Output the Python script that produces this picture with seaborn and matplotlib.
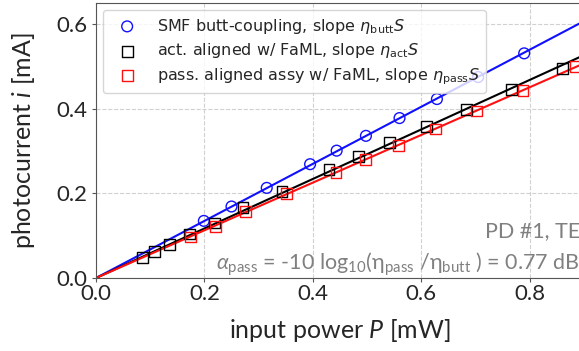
import numpy as np
import pandas as pd
import matplotlib
matplotlib.use("Agg")
import matplotlib.pyplot as plt
from matplotlib.font_manager import FontProperties
import seaborn as sns

# --- data ---
butt_P = [0.199, 0.250, 0.315, 0.395, 0.444, 0.498, 0.560, 0.629, 0.705, 0.790]
butt_i = [0.135, 0.169, 0.213, 0.269, 0.301, 0.336, 0.378, 0.423, 0.475, 0.531]

act_P = [0.086, 0.108, 0.135, 0.172, 0.218, 0.271, 0.343, 0.430, 0.484, 0.542, 0.610, 0.684, 0.767, 0.861]
act_i = [0.048, 0.062, 0.079, 0.104, 0.130, 0.166, 0.205, 0.256, 0.288, 0.321, 0.358, 0.399, 0.445, 0.495]

pass_P = [0.175, 0.221, 0.276, 0.352, 0.443, 0.497, 0.558, 0.627, 0.702, 0.788, 0.884]
pass_i = [0.097, 0.122, 0.158, 0.199, 0.250, 0.280, 0.313, 0.352, 0.395, 0.444, 0.500]

labels = [r"SMF butt-coupling, slope $\eta_{\rm butt}S$",
          r"act. aligned w/ FaML, slope $\eta_{\rm act}S$",
          r"pass. aligned assy w/ FaML, slope $\eta_{\rm pass}S$"]
colors = ["#1010ff", "black", "#ff1010"]
markers = ["o", "s", "s"]

xticks = [0.0, 0.2, 0.4, 0.6, 0.8]
yticks = [0.0, 0.2, 0.4, 0.6]

sns.set_style("whitegrid", {"grid.linestyle": "--", "grid.color": "#d0d0d0",
                            "axes.edgecolor": "#555555"})
plt.rcParams["font.family"] = ["Lato", "DejaVu Sans"]
plt.rcParams["mathtext.fontset"] = "custom"
plt.rcParams["mathtext.rm"] = "Lato"
plt.rcParams["mathtext.it"] = "Lato:italic"
plt.rcParams["mathtext.fallback"] = "stixsans"

fig = plt.figure(figsize=(5.79, 3.51), dpi=100)
ax = fig.add_axes([96/579, 73/351, 0.9*542/579, 275/351])

series = [(butt_P, butt_i), (act_P, act_i), (pass_P, pass_i)]
xmax = 0.9
handles = []
for (P, I), lab, c, m in zip(series, labels, colors, markers):
    P = np.asarray(P); I = np.asarray(I)
    slope = np.sum(P * I) / np.sum(P * P)
    fit = pd.DataFrame({"P": [0.0, xmax], "i": [0.0, slope * xmax]})
    sns.lineplot(data=fit, x="P", y="i", ax=ax, color=c, lw=1.5, legend=False, zorder=2)
    df = pd.DataFrame({"P": P, "i": I})
    sns.scatterplot(data=df, x="P", y="i", ax=ax, marker=m, s=60,
                    facecolors="none", edgecolor=c, linewidth=1.0, legend=False, zorder=3)
    h = ax.scatter([], [], marker=m, s=60, facecolors="none", edgecolors=c, linewidths=1.0, label=lab)
    handles.append(h)

ax.set_xlim(0, xmax)
ax.set_ylim(0, 0.65)
ax.set_xticks(xticks)
ax.set_yticks(yticks)
ax.set_xticklabels([f"{v:.1f}" for v in xticks])
ax.set_yticklabels([f"{v:.1f}" for v in yticks])
ax.tick_params(labelsize=16, length=3, color="#555555", left=True, bottom=True)
ax.tick_params(axis="x", pad=1)
ax.tick_params(axis="y", pad=3)
ax.set_xlabel(r"input power $P$ [mW]", fontsize=18, labelpad=10)
ax.set_ylabel(r"photocurrent $i$ [mA]", fontsize=18, labelpad=14)

legprop = FontProperties(family="DejaVu Sans", size=11.5, math_fontfamily="dejavusans")
leg = ax.legend(handles=handles, loc="upper left", prop=legprop, handlelength=2.2,
                handletextpad=0.75, borderaxespad=0.45, labelspacing=0.36,
                framealpha=0.8, borderpad=0.4)

ax.text(0.992, 0.149, "PD #1, TE", transform=ax.transAxes, ha="right", va="baseline",
        fontsize=15.5, color="#808080")
ax.text(0.992, 0.029,
        r"$\mathit{\alpha}_{\rm pass}$ = -10 log$_{10}$(η$_{\rm pass}$ /η$_{\rm butt}$ ) = 0.77 dB",
        transform=ax.transAxes, ha="right", va="baseline", fontsize=15.5, color="#808080")

fig.savefig("out.png", dpi=100)
